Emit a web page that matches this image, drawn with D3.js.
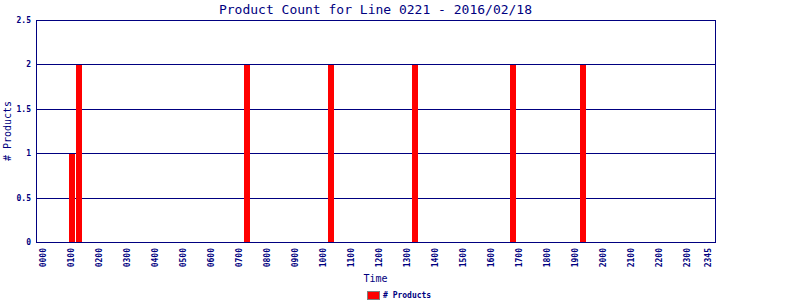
<!doctype html>
<html lang="en">
<head>
<meta charset="utf-8">
<title>Product Count for Line 0221</title>
<script src="https://cdn.jsdelivr.net/npm/d3@7"></script>
<style>
  body { margin: 0; background: #fff; }
  svg text { font-family: "DejaVu Sans Mono", monospace; fill: #000080; }
</style>
</head>
<body>
<svg id="chart" width="800" height="300"></svg>
<script>
// quarter-hour slots of the day, 0000 .. 2345
var slots = d3.range(0, 96).map(function(i) {
  return d3.format("02")(Math.floor(i / 4)) + d3.format("02")((i % 4) * 15);
});
var tickLabels = ["0000","0100","0200","0300","0400","0500","0600","0700","0800","0900",
  "1000","1100","1200","1300","1400","1500","1600","1700","1800","1900",
  "2000","2100","2200","2300","2345"];
var barTimes = ["0100","0115","0715","1015","1315","1645","1915"];
var barCounts = [1, 2, 2, 2, 2, 2, 2];
var yTicks = [0, 0.5, 1, 1.5, 2, 2.5];

var navy = "#000080";
var svg = d3.select("#chart");
// note: "top" is taken by window.top, so use plot* names
var plotL = 36, plotR = 715, plotT = 20, plotB = 242;

var x = d3.scalePoint().domain(slots).range([plotL, plotR]).padding(1);
var y = d3.scaleLinear().domain([0, 2.5]).range([plotB, plotT]);

// gridlines
svg.append("g").selectAll("line")
  .data(yTicks)
  .enter().append("line")
  .attr("x1", plotL).attr("x2", plotR)
  .attr("y1", function(d) { return Math.round(y(d)) + 0.5; })
  .attr("y2", function(d) { return Math.round(y(d)) + 0.5; })
  .attr("stroke", navy).attr("stroke-width", 1)
  .attr("shape-rendering", "crispEdges");

// bars
svg.append("g").selectAll("rect")
  .data(barTimes)
  .enter().append("rect")
  .attr("x", function(d) { return Math.round(x(d)) - 2; })
  .attr("width", 6)
  .attr("y", function(d, i) { return Math.round(y(barCounts[i])) + 1; })
  .attr("height", function(d, i) { return Math.round(y(0)) - Math.round(y(barCounts[i])) - 1; })
  .attr("fill", "#ff0000")
  .attr("shape-rendering", "crispEdges");

// frame
svg.append("rect")
  .attr("x", plotL + 0.5).attr("y", plotT + 0.5)
  .attr("width", plotR - plotL).attr("height", plotB - plotT)
  .attr("fill", "none").attr("stroke", navy)
  .attr("shape-rendering", "crispEdges");

// y tick labels
svg.append("g").selectAll("text")
  .data(yTicks)
  .enter().append("text")
  .attr("x", 31)
  .attr("y", function(d) { return y(d) + 3; })
  .attr("text-anchor", "end")
  .attr("font-size", 8).attr("font-weight", "bold")
  .text(function(d) { return d; });

// x tick labels (rotated)
svg.append("g").selectAll("text")
  .data(tickLabels)
  .enter().append("text")
  .attr("transform", function(d) { return "translate(" + (x(d) + 3) + ",248) rotate(-90)"; })
  .attr("text-anchor", "end")
  .attr("font-size", 8).attr("font-weight", "bold")
  .text(function(d) { return d; });

// title
svg.append("text")
  .attr("x", (plotL + plotR) / 2).attr("y", 14)
  .attr("text-anchor", "middle")
  .attr("font-size", 13)
  .text("Product Count for Line 0221 - 2016/02/18");

// axis titles
svg.append("text")
  .attr("x", (plotL + plotR) / 2).attr("y", 282)
  .attr("text-anchor", "middle")
  .attr("font-size", 10)
  .text("Time");

svg.append("text")
  .attr("transform", "translate(11," + (plotT + plotB) / 2 + ") rotate(-90)")
  .attr("text-anchor", "middle")
  .attr("font-size", 10)
  .text("# Products");

// legend
svg.append("rect")
  .attr("x", 367.5).attr("y", 291.5).attr("width", 12).attr("height", 8)
  .attr("fill", "#ff0000").attr("stroke", "#808080")
  .attr("shape-rendering", "crispEdges");
svg.append("text")
  .attr("x", 383).attr("y", 298)
  .attr("font-size", 8).attr("font-weight", "bold")
  .text("# Products");
</script>
</body>
</html>
